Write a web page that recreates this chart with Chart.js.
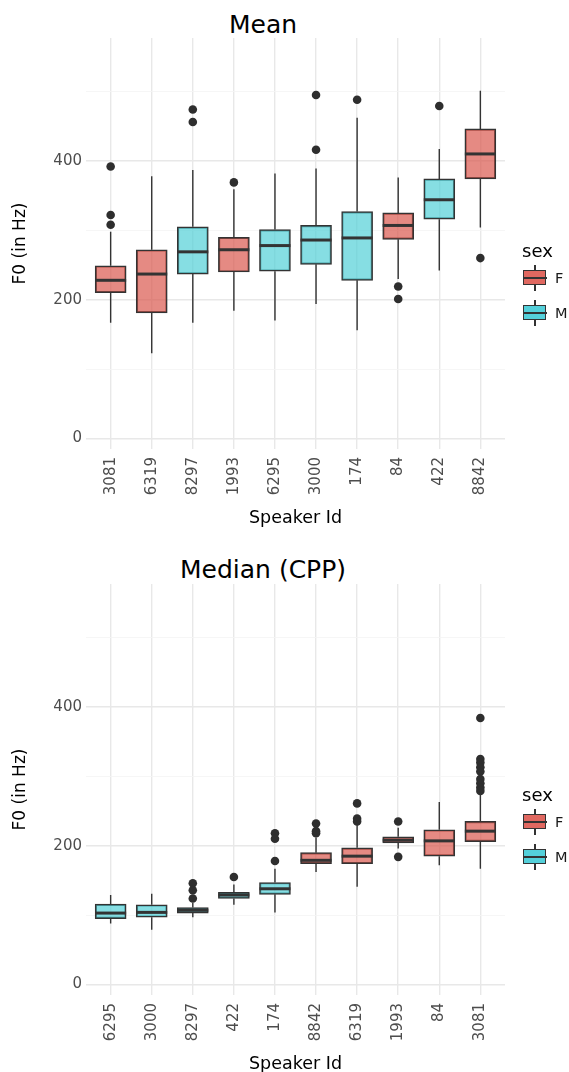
<!DOCTYPE html>
<html>
<head>
<meta charset="utf-8">
<script src="https://cdn.jsdelivr.net/npm/chart.js@4.4.0/dist/chart.umd.min.js"></script>
<style>
  body { margin: 0; background: #fff; width: 569px; height: 1072px; overflow: hidden; position: relative; font-family: "DejaVu Sans", sans-serif; }
  .panel { position: absolute; left: 0; }
  .title { position: absolute; font-size: 25px; line-height: 25px; color: #000; white-space: nowrap; transform: translateX(-50%); }
  .leg-title { position: absolute; left: 522px; font-size: 18px; line-height: 18px; color: #000; }
  .leg-key { position: absolute; left: 523px; width: 24px; height: 26px; }
  .leg-key .wh { position: absolute; left: 11px; top: 0; width: 1.5px; height: 26px; background: #333; }
  .leg-key .bx { position: absolute; left: 0; top: 5px; width: 21px; height: 13px; border: 1.5px solid #333; }
  .leg-key .md { position: absolute; left: 0; top: 12px; width: 24px; height: 2px; background: #333; }
  .leg-label { position: absolute; left: 555px; font-size: 14.5px; line-height: 16px; color: #1a1a1a; }
</style>
</head>
<body>
<div class="title" style="left:263px; top:12px;">Mean</div>
<div class="title" style="left:263px; top:557px;">Median (CPP)</div>
<div class="panel" style="top:0;"><canvas id="meanChart" width="569" height="536"></canvas></div>
<div class="panel" style="top:536px;"><canvas id="cppChart" width="569" height="546"></canvas></div>
<script>
// "Mean" panel
const meanSpeakers = ['3081', '6319', '8297', '1993', '6295', '3000', '174', '84', '422', '8842'];
const meanSex = ['F', 'F', 'M', 'F', 'M', 'M', 'M', 'F', 'M', 'F'];
const meanLower = [167, 123, 167, 184, 170, 194, 156, 230, 242, 304];
const meanQ1 = [210, 181, 237, 240, 241, 251, 228, 287, 316, 374];
const meanMedian = [228, 237, 269, 272, 278, 286, 289, 307, 344, 410];
const meanQ3 = [249, 272, 305, 290, 301, 307, 327, 325, 374, 446];
const meanUpper = [298, 378, 387, 359, 382, 389, 462, 376, 417, 501];
const meanOutliers = [[392, 322, 308], [], [474, 456], [369], [], [495, 416], [488], [219, 201], [479], [260]];

// "Median (CPP)" panel
const cppSpeakers = ['6295', '3000', '8297', '422', '174', '8842', '6319', '1993', '84', '3081'];
const cppSex = ['M', 'M', 'M', 'M', 'M', 'F', 'F', 'F', 'F', 'F'];
const cppLower = [88, 79, 97, 115, 104, 162, 141, 196, 172, 167];
const cppQ1 = [95, 97, 103, 124, 130, 174, 174, 204, 185, 206];
const cppMedian = [103, 104, 107, 129, 138, 179, 185, 208, 207, 221];
const cppQ3 = [116, 115, 111, 133, 147, 190, 197, 213, 223, 235];
const cppUpper = [129, 131, 118, 144, 167, 212, 230, 226, 263, 275];
const cppOutliers = [[], [], [146, 136, 124], [155], [218, 210, 178], [232, 221, 218], [261, 239, 235], [235, 184], [], [384, 325, 320, 313, 307, 296, 290, 284, 279]];

const yTicks = [0, 100, 200, 300, 400, 500];

const boxFill = { F: 'rgba(218, 88, 78, 0.7)', M: 'rgba(82, 208, 215, 0.7)' };
const keyFill = { F: 'rgb(224, 104, 96)', M: 'rgb(84, 208, 218)' };
const darkLine = '#333333';

// whiskers + median lines, drawn right after the boxes
const boxExtras = {
    id: 'boxExtras',
    afterDatasetDraw(chart, args, opts) {
        if (args.index !== 0) return;
        const x = chart.scales.x, y = chart.scales.y, ctx = chart.ctx;
        ctx.save();
        ctx.strokeStyle = darkLine;
        ctx.lineCap = 'butt';
        opts.median.forEach((m, i) => {
            const px = x.getPixelForValue(i);
            ctx.lineWidth = 1.4;
            ctx.beginPath();
            ctx.moveTo(px, y.getPixelForValue(opts.q3[i]));
            ctx.lineTo(px, y.getPixelForValue(opts.upper[i]));
            ctx.moveTo(px, y.getPixelForValue(opts.q1[i]));
            ctx.lineTo(px, y.getPixelForValue(opts.lower[i]));
            ctx.stroke();
            ctx.lineWidth = 3;
            ctx.beginPath();
            ctx.moveTo(px - 15.5, y.getPixelForValue(m));
            ctx.lineTo(px + 15.5, y.getPixelForValue(m));
            ctx.stroke();
        });
        ctx.restore();
    }
};

function makePanel(canvasId, speakers, sex, lower, q1, median, q3, upper, outliers, topPad) {
    const boxes = speakers.map((s, i) => ({ x: i, y: [q1[i], q3[i]] }));
    const dots = [];
    outliers.forEach((list, i) => list.forEach(v => dots.push({ x: i, y: v })));

    new Chart(document.getElementById(canvasId), {
        type: 'bar',
        data: {
            datasets: [{
                type: 'bar',
                data: boxes,
                backgroundColor: sex.map(s => boxFill[s]),
                borderColor: darkLine,
                borderWidth: 1.5,
                borderSkipped: false,
                barThickness: 31
            }, {
                type: 'scatter',
                data: dots,
                pointRadius: 4.3,
                pointBackgroundColor: '#2e2e2e',
                pointBorderWidth: 0
            }]
        },
        options: {
            responsive: false,
            animation: false,
            devicePixelRatio: 1,
            layout: { padding: { top: topPad, right: 64, bottom: 0, left: 0 } },
            plugins: {
                legend: { display: false },
                tooltip: { enabled: false },
                boxExtras: { lower: lower, q1: q1, median: median, q3: q3, upper: upper }
            },
            scales: {
                x: {
                    type: 'linear',
                    min: -0.6,
                    max: 9.6,
                    offset: false,
                    afterBuildTicks: scale => { scale.ticks = speakers.map((s, i) => ({ value: i })); },
                    afterFit: scale => { scale.height = 87; },
                    ticks: {
                        autoSkip: false,
                        maxRotation: 90,
                        minRotation: 90,
                        padding: 8,
                        color: '#4d4d4d',
                        font: { family: 'DejaVu Sans', size: 15 },
                        callback: v => speakers[v]
                    },
                    grid: { offset: false, color: '#e8e8e8', lineWidth: 1.4, drawTicks: false },
                    border: { display: false },
                    title: {
                        display: true,
                        text: 'Speaker Id',
                        color: '#000',
                        padding: { top: 0, bottom: 7 },
                        font: { family: 'DejaVu Sans', size: 17.5 }
                    }
                },
                y: {
                    min: -15,
                    max: 577,
                    afterBuildTicks: scale => { scale.ticks = yTicks.map(v => ({ value: v })); },
                    afterFit: scale => { scale.width = 86; },
                    ticks: {
                        padding: 4,
                        color: '#4d4d4d',
                        font: { family: 'DejaVu Sans', size: 15 },
                        callback: v => (v % 200 === 0 ? String(v) : '')
                    },
                    grid: {
                        drawTicks: false,
                        color: c => (c.tick && c.tick.value % 200 === 0 ? '#e8e8e8' : '#f4f4f4'),
                        lineWidth: c => (c.tick && c.tick.value % 200 === 0 ? 1.4 : 0.8)
                    },
                    border: { display: false },
                    title: {
                        display: true,
                        text: 'F0 (in Hz)',
                        color: '#000',
                        padding: { top: 10, bottom: 0 },
                        font: { family: 'DejaVu Sans', size: 17 }
                    }
                }
            }
        },
        plugins: [boxExtras]
    });
}

function addLegend(baseline) {
    const title = document.createElement('div');
    title.className = 'leg-title';
    title.textContent = 'sex';
    title.style.top = (baseline - 15) + 'px';
    document.body.appendChild(title);
    [['F', 21], ['M', 56]].forEach(([lvl, dy]) => {
        const cy = baseline + dy;
        const key = document.createElement('div');
        key.className = 'leg-key';
        key.style.top = (cy - 13) + 'px';
        key.innerHTML = '<div class="wh"></div><div class="bx" style="background:' + keyFill[lvl] + '"></div><div class="md"></div>';
        document.body.appendChild(key);
        const lab = document.createElement('div');
        lab.className = 'leg-label';
        lab.textContent = lvl;
        lab.style.top = (cy - 8) + 'px';
        document.body.appendChild(lab);
    });
}

makePanel('meanChart', meanSpeakers, meanSex, meanLower, meanQ1, meanMedian, meanQ3, meanUpper, meanOutliers, 38);
makePanel('cppChart', cppSpeakers, cppSex, cppLower, cppQ1, cppMedian, cppQ3, cppUpper, cppOutliers, 48);
addLegend(257);
addLegend(801);
</script>
</body>
</html>
